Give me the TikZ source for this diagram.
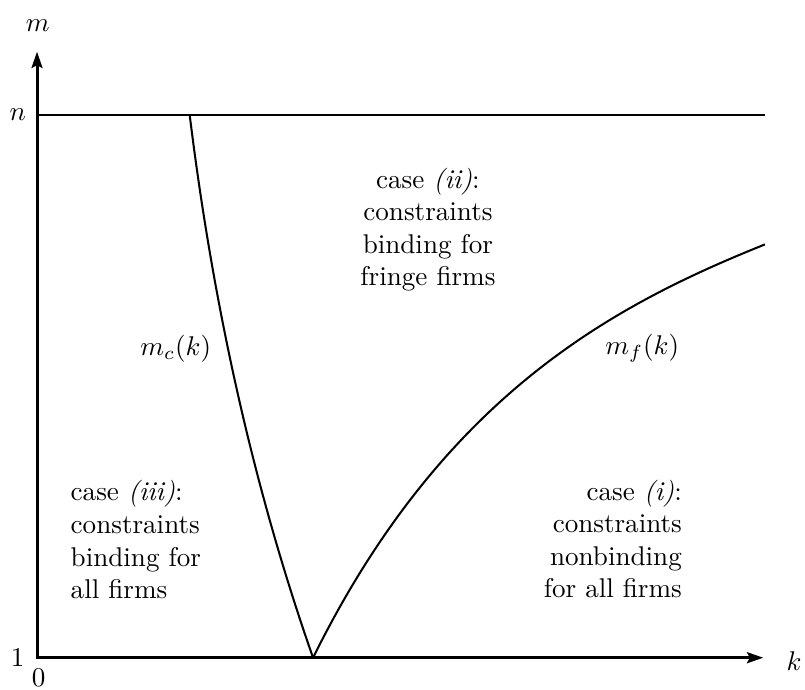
\documentclass[tikz,border=0pt]{standalone}
\usepackage{amsmath}
\usepackage{tikz}
\usetikzlibrary{arrows.meta,positioning}

\begin{document}
\begin{tikzpicture}[
  axis/.style={line width=1.1pt, line join=miter,
               {Stealth[length=6pt, width=4pt, inset=1pt]}-{Stealth[length=6pt, width=4pt, inset=1pt]}},
  bound/.style={line width=0.55pt},
  curve/.style={line width=0.75pt},
  region/.style={inner sep=0pt, align=center},
]
\useasboundingbox (-0.48,-0.415) rectangle (9.96,8.53);

%% ── Axes ───────────────────────────────────────────────────────────────────
\coordinate (mend) at (0,7.86);
\coordinate (kend) at (9.42,0);
\draw[axis] (mend) |- (kend);
\node (klab) at (9.82,-0.04) {$k$};
\node (mlab) at (0.01,8.20) {$m$};
\node (zero) at (0.02,-0.26) {$0$};
\node (one)  at (-0.25,0) {$1$};

%% ── Upper bound n ──────────────────────────────────────────────────────────
\coordinate (nleft)  at (0,7.04);
\coordinate (nright) at (9.44,7.04);
\draw[bound] (nleft) -- (nright);
\node (nlab) at (-0.25,7.04) {$n$};

%% ── Thresholds m_c(k) and m_f(k) ───────────────────────────────────────────
\coordinate (ktop) at (1.98,7.04);
\coordinate (kmin) at (3.58,0);
\coordinate (fend) at (9.44,5.36);
\draw[curve] (ktop) .. controls (2.29,4.52) and (2.82,2.17) .. (kmin);
\draw[curve] (kmin) .. controls (5.27,3.42) and (7.50,4.58) .. (fend);
\node (mclab) at (1.80,4.01) {$m_c(k)$};
\node (mflab) at (7.85,4.01) {$m_f(k)$};

%% ── Regions ────────────────────────────────────────────────────────────────
\node[region] (caseii) at (5.07,5.55)
  {case \textit{(ii)}:\\constraints\\binding for\\fringe firms};
\node[region, align=left, anchor=west] (caseiii) at (0.43,1.53)
  {case \textit{(iii)}:\\constraints\\binding for\\all firms};
\node[region, align=right, anchor=east] (casei) at (8.37,1.54)
  {case \textit{(i)}:\\constraints\\nonbinding\\for all firms};

\end{tikzpicture}
\end{document}
